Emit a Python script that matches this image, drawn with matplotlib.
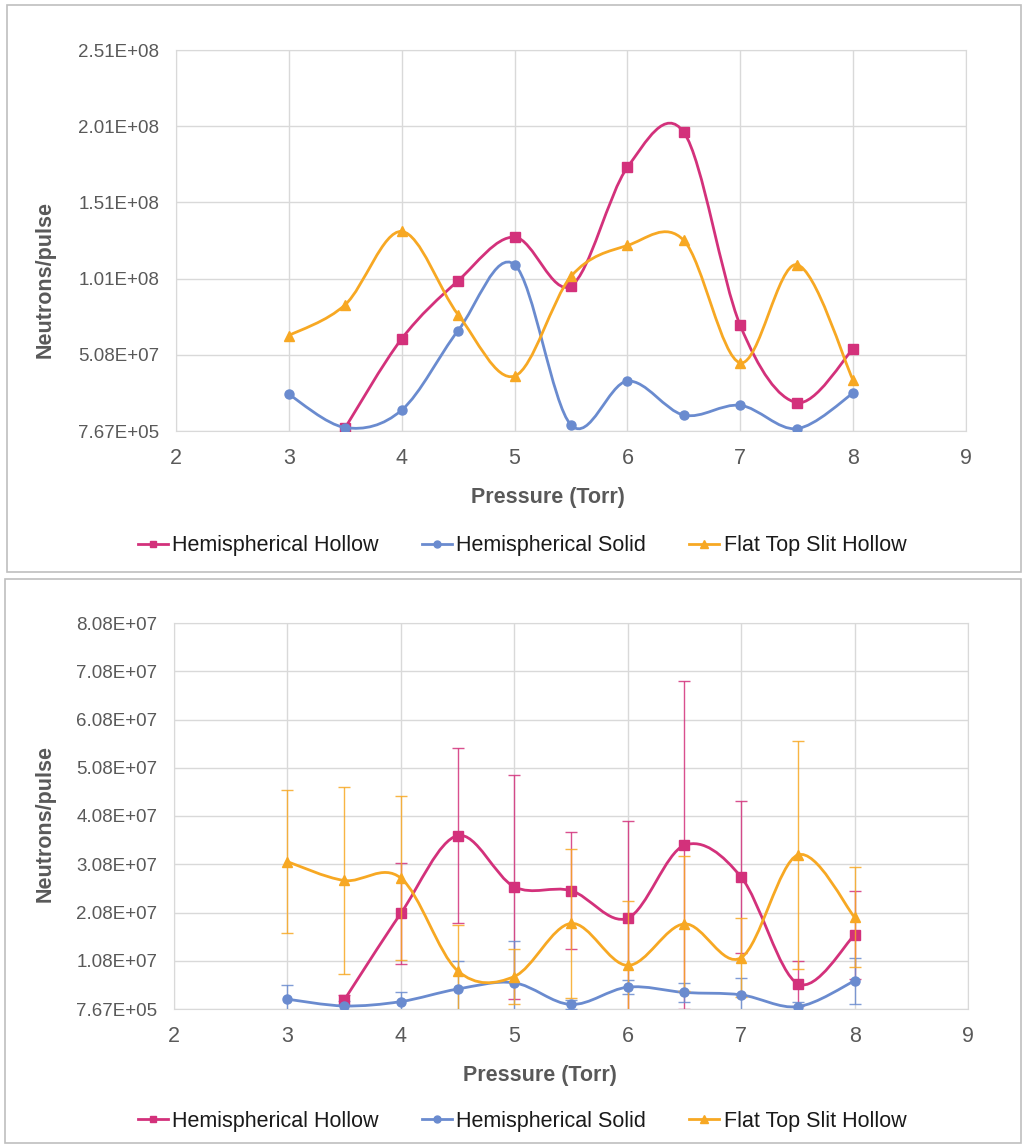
"""Neutron yield vs pressure for three electrode shapes, two Excel-style panels."""

import numpy as np
import matplotlib.pyplot as plt
from matplotlib.path import Path
from matplotlib.patches import PathPatch, Rectangle
from matplotlib.lines import Line2D

plt.rcParams["font.family"] = ["Liberation Sans", "DejaVu Sans"]

pressure = [3, 3.5, 4, 4.5, 5, 5.5, 6, 6.5, 7, 7.5, 8]
pressure_hollow = pressure[1:]
series_names = ["Hemispherical Hollow", "Hemispherical Solid", "Flat Top Slit Hollow"]

# top panel
top_hollow = [3.0e6, 6.13e7, 9.94e7, 1.28e8, 9.6e7, 1.738e8, 1.967e8, 7.0e7, 1.94e7, 5.47e7]
top_solid = [2.48e7, 3.0e6, 1.45e7, 6.67e7, 1.099e8, 4.7e6, 3.35e7, 1.12e7, 1.76e7, 2.3e6, 2.56e7]
top_flat = [6.34e7, 8.37e7, 1.317e8, 7.71e7, 3.68e7, 1.022e8, 1.225e8, 1.258e8, 4.55e7, 1.099e8, 3.4e7]

# bottom panel (with error bars)
bot_hollow = [2.6e6, 2.06e7, 3.67e7, 2.61e7, 2.53e7, 1.96e7, 3.47e7, 2.81e7, 6.0e6, 1.61e7]
bot_hollow_err = [1.0e6, 1.05e7, 1.82e7, 2.32e7, 1.21e7, 2.01e7, 3.4e7, 1.57e7, 4.7e6, 9.1e6]
bot_solid = [2.8e6, 1.4e6, 2.3e6, 4.9e6, 6.2e6, 1.7e6, 5.3e6, 4.2e6, 3.7e6, 1.25e6, 6.6e6]
bot_solid_err = [2.9e6, 1.0e6, 1.9e6, 5.8e6, 8.6e6, 1.0e6, 1.5e6, 1.9e6, 3.4e6, 1.0e6, 4.7e6]
bot_flat = [3.13e7, 2.74e7, 2.79e7, 8.7e6, 7.5e6, 1.85e7, 9.8e6, 1.84e7, 1.14e7, 3.27e7, 1.98e7]
bot_flat_err = [1.48e7, 1.93e7, 1.70e7, 9.4e6, 5.6e6, 1.54e7, 1.34e7, 1.4e7, 8.2e6, 2.36e7, 1.03e7]

top_ticks = [7.67e5 + k * 5e7 for k in range(6)]
bot_ticks = [7.67e5 + k * 1e7 for k in range(9)]

colors = ["#d3317b", "#6a8bcf", "#f7a823"]
markers = ["s", "o", "^"]
text_gray = "#595959"
grid_gray = "#d9d9d9"

W, H = 1024, 1145


def smooth_path(xs, ys):
    # excel-like smoothed line (catmull-rom as cubic bezier)
    pts = np.column_stack([xs, ys]).astype(float)
    n = len(pts)
    verts = [pts[0]]
    codes = [Path.MOVETO]
    for i in range(n - 1):
        p0 = pts[i - 1] if i > 0 else pts[i]
        p1 = pts[i]
        p2 = pts[i + 1]
        p3 = pts[i + 2] if i + 2 < n else pts[i + 1]
        verts += [p1 + (p2 - p0) / 6, p2 - (p3 - p1) / 6, p2]
        codes += [Path.CURVE4] * 3
    return Path(verts, codes)


def px_axes(fig, left, top, right, bottom):
    return fig.add_axes([left / W, 1 - bottom / H, (right - left) / W, (bottom - top) / H])


def style_axes(ax, ticks):
    ax.set_xlim(2, 9)
    ax.set_ylim(ticks[0], ticks[-1])
    ax.set_xticks(range(2, 10))
    ax.set_yticks(ticks)
    ax.set_yticklabels(["{:.2E}".format(t) for t in ticks])
    ax.tick_params(length=0, colors=text_gray)
    ax.tick_params(axis="y", labelsize=13.5, pad=12)
    ax.tick_params(axis="x", labelsize=15.5, pad=12)
    ax.grid(True, color=grid_gray, lw=1)
    ax.set_axisbelow(True)
    for s in ax.spines.values():
        s.set_color(grid_gray)


def draw_series(ax, xs, ys, color, marker, z):
    ax.add_patch(PathPatch(smooth_path(xs, ys), fill=False, ec=color, lw=2.0, zorder=z))
    ms = 7.5 if marker == "^" else 6.5
    ax.plot(xs, ys, linestyle="none", marker=marker, color=color, ms=ms, zorder=z + 0.5)


fig = plt.figure(figsize=(W / 100, H / 100), dpi=100)

# panel frames
fig.patches.append(Rectangle((7 / W, 1 - 572 / H), 1014 / W, 567 / H, transform=fig.transFigure,
                             fill=False, ec="#bfbfbf", lw=1.2))
fig.patches.append(Rectangle((5 / W, 1 - 1143 / H), 1016 / W, 564 / H, transform=fig.transFigure,
                             fill=False, ec="#bfbfbf", lw=1.2))

handles = [Line2D([], [], color=c, marker=m, lw=2.0, ms=5 if m != "^" else 6)
           for c, m in zip(colors, markers)]
legend_kw = dict(loc="center", ncol=3, frameon=False, fontsize=15.5, labelcolor="#1a1a1a",
                 handlelength=1.4, handletextpad=0.2, columnspacing=2.0)

# ---- top panel
ax1 = px_axes(fig, 176, 50, 966, 431)
style_axes(ax1, top_ticks)
draw_series(ax1, pressure_hollow, top_hollow, colors[0], markers[0], 3)
draw_series(ax1, pressure, top_solid, colors[1], markers[1], 4)
draw_series(ax1, pressure, top_flat, colors[2], markers[2], 5)

fig.text(45 / W, 1 - 280 / H, "Neutrons/pulse", rotation=90, ha="center", va="center",
         fontsize=15.5, fontweight="bold", color=text_gray)
fig.text(548 / W, 1 - 498 / H, "Pressure (Torr)", ha="center", va="center",
         fontsize=15.5, fontweight="bold", color=text_gray)
fig.legend(handles, series_names, bbox_to_anchor=(522 / W, 1 - 546 / H), **legend_kw)

# ---- bottom panel
ax2 = px_axes(fig, 174, 623, 968, 1009)
style_axes(ax2, bot_ticks)
err_data = [(pressure_hollow, bot_hollow, bot_hollow_err),
            (pressure, bot_solid, bot_solid_err),
            (pressure, bot_flat, bot_flat_err)]
for i, (xs, ys, err) in enumerate(err_data):
    ax2.errorbar(xs, ys, yerr=err, fmt="none", ecolor=colors[i], elinewidth=1.0,
                 capsize=4, capthick=1.0, alpha=0.85, zorder=2 + i)
    draw_series(ax2, xs, ys, colors[i], markers[i], 3 + i)

fig.text(45 / W, 1 - 823 / H, "Neutrons/pulse", rotation=90, ha="center", va="center",
         fontsize=15.5, fontweight="bold", color=text_gray)
fig.text(540 / W, 1 - 1075 / H, "Pressure (Torr)", ha="center", va="center",
         fontsize=15.5, fontweight="bold", color=text_gray)
fig.legend(handles, series_names, bbox_to_anchor=(522 / W, 1 - 1121 / H), **legend_kw)

fig.savefig("out.png", dpi=100)
